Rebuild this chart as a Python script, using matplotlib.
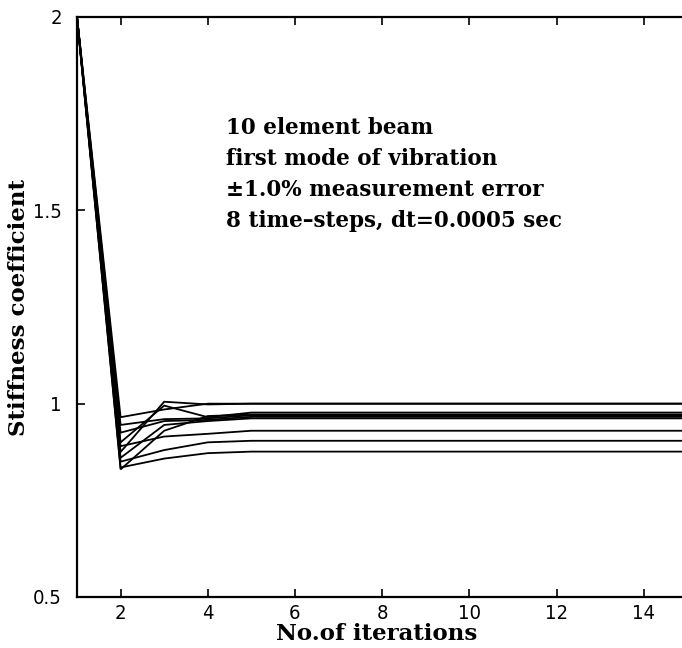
import matplotlib
matplotlib.use("Agg")
import matplotlib.pyplot as plt

# Iteration index
iterations = list(range(1, 16))

# Stiffness coefficient per element for iterations 1..5; values stay constant afterwards
element_start = [
    [2.0, 0.965, 0.985, 1.000, 1.000],
    [2.0, 0.875, 1.005, 0.998, 1.000],
    [2.0, 0.900, 0.995, 0.965, 0.977],
    [2.0, 0.945, 0.960, 0.962, 0.970],
    [2.0, 0.925, 0.955, 0.958, 0.966],
    [2.0, 0.860, 0.945, 0.955, 0.962],
    [2.0, 0.890, 0.915, 0.922, 0.930],
    [2.0, 0.850, 0.880, 0.900, 0.904],
    [2.0, 0.835, 0.858, 0.872, 0.876],
    [2.0, 0.830, 0.930, 0.968, 0.972],
]

x_ticks = [2, 4, 6, 8, 10, 12, 14]
y_ticks = [0.5, 1.0, 1.5, 2.0]
y_tick_labels = ["0.5", "1", "1.5", "2"]

notes = [
    "10 element beam",
    "first mode of vibration",
    "\u00b11.0% measurement error",
    "8 time\u2013steps, dt=0.0005 sec",
]

W, H = 682, 648
fig = plt.figure(figsize=(W / 100, H / 100), dpi=100)
left, right, top, bottom = 77, 682, 17, 597
ax = fig.add_axes([left / W, 1 - bottom / H, (right - left) / W, (bottom - top) / H])

for start in element_start:
    values = start + [start[-1]] * (len(iterations) - len(start))
    ax.plot(iterations, values, color="black", lw=1.3, solid_joinstyle="miter")

ax.set_xlim(1, 1 + (right - left) / 43.6)
ax.set_ylim(0.5, 2.0)

tick_font = dict(family=["Liberation Sans Narrow", "DejaVu Sans"],
                 stretch="condensed", size=14.5)
ax.set_xticks(x_ticks)
ax.set_xticklabels([str(t) for t in x_ticks], **tick_font)
ax.set_yticks(y_ticks)
ax.set_yticklabels(y_tick_labels, **tick_font)
ax.tick_params(axis="x", direction="in", length=6, width=1.2, top=True,
               pad=5, colors="black")
ax.tick_params(axis="y", direction="in", length=6, width=1.2, right=False,
               pad=11, colors="black")
ax.spines["right"].set_visible(False)
for s in ("left", "bottom", "top"):
    ax.spines[s].set_linewidth(1.6)

label_font = dict(family=["DejaVu Serif"], size=16.5, weight="bold")
ax.set_xlabel("No.of iterations", **label_font)
ax.set_ylabel("Stiffness coefficient", **label_font)
ax.xaxis.label.set_va("center")
ax.yaxis.label.set_va("center")
ax.xaxis.set_label_coords((377 - left) / (right - left), -(634 - bottom) / (bottom - top))
ax.yaxis.set_label_coords(-(left - 19) / (right - left), 0.5)

for i, line in enumerate(notes):
    fig.text(226 / W, 1 - (128 + 31 * i) / H, line, ha="left", va="center",
             family=["DejaVu Serif"], size=15.5, weight="bold")

fig.savefig("out.png", dpi=100)
